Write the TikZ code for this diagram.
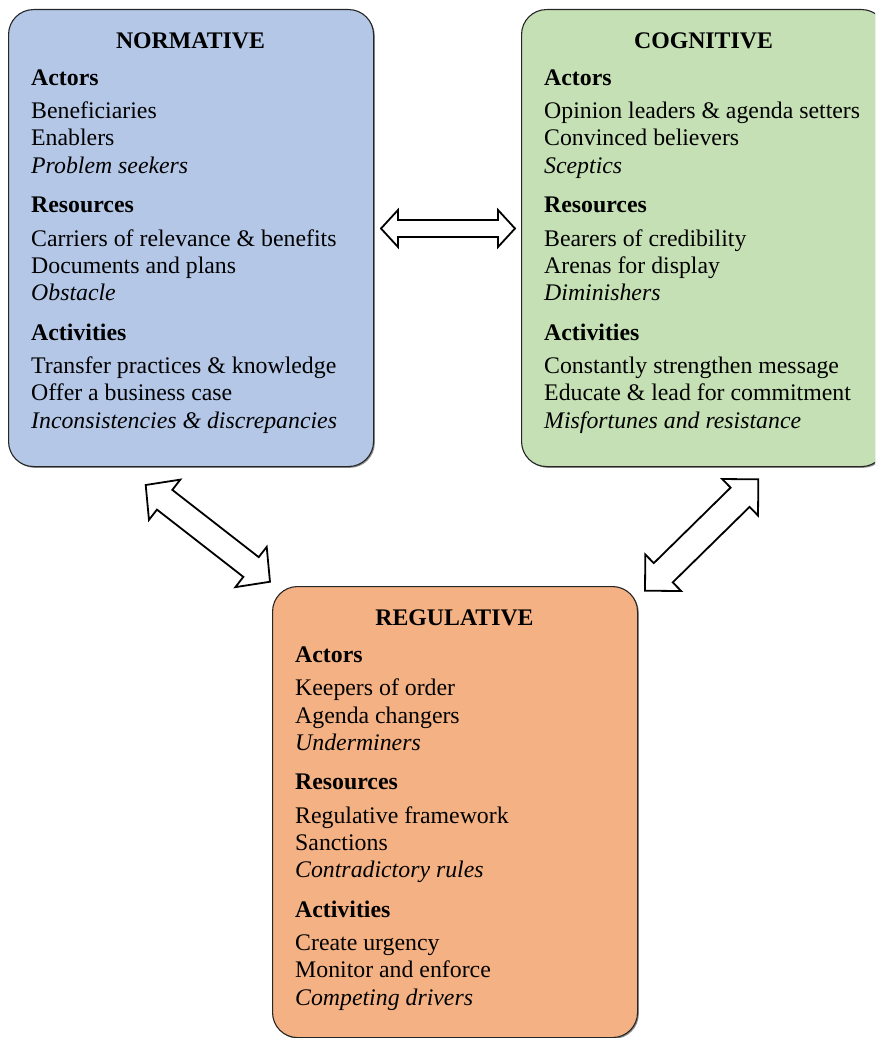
\documentclass[tikz,border=0pt]{standalone}
\usepackage{fontspec}
\setmainfont{Liberation Serif}
\usetikzlibrary{shadows}
\definecolor{normblue}{RGB}{180,199,231}
\definecolor{cogngreen}{RGB}{197,224,180}
\definecolor{regorange}{RGB}{244,177,131}
\newcommand\blockarr[7]{%
  \begin{scope}[shift={(#1,#2)}, rotate=#3]
    \draw[blk] (0,0) -- (#5,-#6) -- (#5,-#7) -- ({#4-#5},-#7) -- ({#4-#5},-#6) -- (#4,0)
      -- ({#4-#5},#6) -- ({#4-#5},#7) -- (#5,#7) -- (#5,#6) -- cycle;
  \end{scope}}
\begin{document}
\begin{tikzpicture}[x=1pt,y=-1pt,
  box/.style={draw=black!85, line width=1.1pt, rounded corners=25pt, anchor=north west,
    minimum width=365, inner sep=0pt,
    drop shadow={shadow xshift=1.3pt, shadow yshift=-1.3pt, opacity=0.45, fill=black}},
  txt/.style={anchor=base west, inner sep=0pt, font=\fontsize{23.8}{27.5}\selectfont},
  hd/.style={anchor=base west, inner sep=0pt, font=\fontsize{23.8}{27.5}\selectfont\bfseries},
  itx/.style={anchor=base west, inner sep=0pt, font=\fontsize{23.8}{27.5}\selectfont\itshape},
  ttl/.style={anchor=base, inner sep=0pt, font=\fontsize{23.8}{27.5}\selectfont\bfseries},
  blk/.style={draw=black, line width=1.8pt, fill=white, line join=miter}]
\useasboundingbox (0,0) rectangle (875,1038);
\clip (0,0) rectangle (875,1038);

% boxes
\node[box, fill=normblue, minimum height=457] (norm) at (8,9) {};
\node[box, fill=cogngreen, minimum height=457] (cogn) at (521,9) {};
\node[box, fill=regorange, minimum height=451] (regu) at (272,586) {};

% NORMATIVE
\begin{scope}[shift={(0,9)}]
\node[ttl] (nt) at (190.5,39.5) {NORMATIVE};
\node[hd] (nh1) at (31,76.5) {Actors};
\node[txt] (n11) at (31,109) {Beneficiaries};
\node[txt] (n12) at (31,137) {Enablers};
\node[itx] (n13) at (31,164) {Problem seekers};
\node[hd] (nh2) at (31,203.5) {Resources};
\node[txt] (n21) at (31,237) {Carriers of relevance \& benefits};
\node[txt] (n22) at (31,264) {Documents and plans};
\node[itx] (n23) at (31,291) {Obstacle};
\node[hd] (nh3) at (31,331.5) {Activities};
\node[txt] (n31) at (31,364) {Transfer practices \& knowledge};
\node[txt] (n32) at (31,391) {Offer a business case};
\node[itx] (n33) at (31,419) {Inconsistencies \& discrepancies};
\end{scope}

% COGNITIVE
\begin{scope}[shift={(0,9)}]
\node[ttl] (ct) at (703.5,39.5) {COGNITIVE};
\node[hd] (ch1) at (544,76.5) {Actors};
\node[txt] (c11) at (544,109) {Opinion leaders \& agenda setters};
\node[txt] (c12) at (544,137) {Convinced believers};
\node[itx] (c13) at (544,164) {Sceptics};
\node[hd] (ch2) at (544,203.5) {Resources};
\node[txt] (c21) at (544,237) {Bearers of credibility};
\node[txt] (c22) at (544,264) {Arenas for display};
\node[itx] (c23) at (544,291) {Diminishers};
\node[hd] (ch3) at (544,331.5) {Activities};
\node[txt] (c31) at (544,364) {Constantly strengthen message};
\node[txt] (c32) at (544,391) {Educate \& lead for commitment};
\node[itx] (c33) at (544,419) {Misfortunes and resistance};
\end{scope}

% REGULATIVE
\begin{scope}[shift={(0,586)}]
\node[ttl] (rt) at (454.5,39.5) {REGULATIVE};
\node[hd] (rh1) at (295,76.5) {Actors};
\node[txt] (r11) at (295,109) {Keepers of order};
\node[txt] (r12) at (295,137) {Agenda changers};
\node[itx] (r13) at (295,164) {Underminers};
\node[hd] (rh2) at (295,203.5) {Resources};
\node[txt] (r21) at (295,237) {Regulative framework};
\node[txt] (r22) at (295,264) {Sanctions};
\node[itx] (r23) at (295,291) {Contradictory rules};
\node[hd] (rh3) at (295,331.5) {Activities};
\node[txt] (r31) at (295,364) {Create urgency};
\node[txt] (r32) at (295,391) {Monitor and enforce};
\node[itx] (r33) at (295,419) {Competing drivers};
\end{scope}

% double block arrows
\blockarr{381}{228.5}{0}{134}{17}{18.5}{8.5}
\blockarr{145.7}{485}{-37.9}{157.5}{24}{25.5}{12.5}
\blockarr{645}{590.7}{44.5}{158.9}{25.6}{25.6}{13.5}
\end{tikzpicture}
\end{document}
